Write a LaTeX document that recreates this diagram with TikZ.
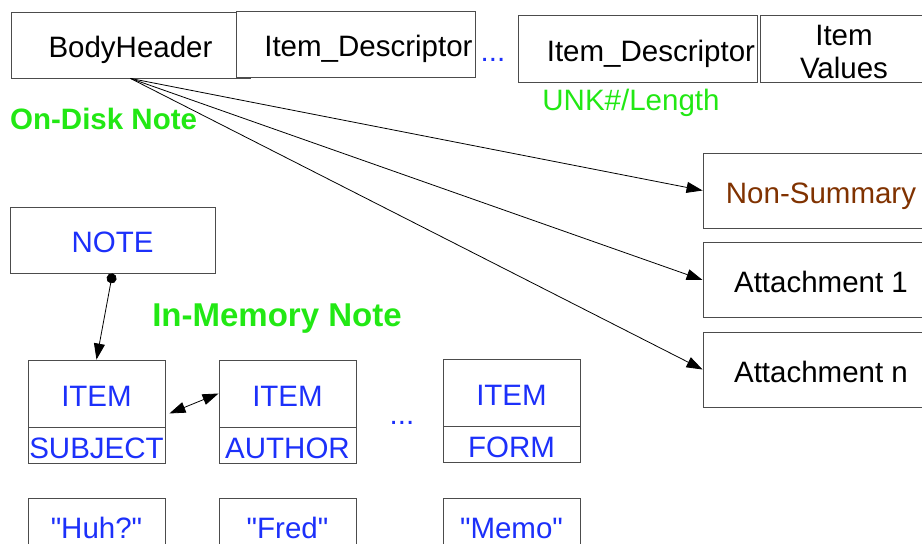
\documentclass[tikz,border=0pt]{standalone}
\usepackage{fontspec}
\setmainfont{Liberation Sans}
\usetikzlibrary{arrows.meta}

\definecolor{diskgreen}{RGB}{34,232,20}
\definecolor{itemblue}{RGB}{28,48,250}
\definecolor{nsbrown}{RGB}{128,50,0}

\begin{document}
\begin{tikzpicture}[x=1pt,y=-1pt]
    	\tikzstyle{mybox} = 
    	[draw = black!70,
    	line width = 0.9pt,
    	fill = white,
    	inner sep = 0pt,
    	font = \fontsize{29.5}{33}\selectfont
    	]
    	\tikzstyle{onebox} = 
    	[mybox,
    	text height = 25pt,
    	text depth = 0pt
    	]
    	\tikzstyle{descbox} = 
    	[onebox,
    	minimum height = 66pt,
    	text width = 234pt,
    	inner xsep = 2.5pt,
    	align = right
    	]
    	\tikzstyle{itembox} = 
    	[onebox,
    	text = itemblue,
    	minimum width = 137pt,
    	minimum height = 67pt
    	]
    	\tikzstyle{fieldbox} = 
    	[itembox,
    	minimum height = 36pt
    	]
    	\tikzstyle{sidebox} = 
    	[onebox,
    	minimum width = 236pt,
    	minimum height = 75pt
    	]
    	\tikzstyle{caption} = 
    	[text = diskgreen,
    	inner sep = 0pt,
    	font = \fontsize{29.5}{33}\selectfont\bfseries
    	]
    	\tikzstyle{myarrow} = 
    	[line width = 0.8pt,
    	-{Triangle[length=16pt,width=11pt]}
    	]

        \useasboundingbox (0,0) rectangle (922,544);
        \clip (0,0) rectangle (922,544);

        % on-disk layout
        \node[onebox, minimum width=239pt, minimum height=66pt]
        	(body) at (130.5,45) {BodyHeader};
        \node[descbox] (desc1) at (355.5,44) {Item\_Descriptor};
        \node[text=itemblue, font=\fontsize{29.5}{33}\selectfont]
        	(gap) at (493,60) {...};
        \node[descbox, minimum height=67pt] (desc2) at (638,48.5) {Item\_Descriptor};
        \node[mybox, minimum width=168pt, minimum height=67pt, align=center,
        	text height=60pt] 
        	(values) at (844,48.5) {Item\\Values};
        \node[caption, font=\fontsize{29.5}{33}\selectfont]
        	(unk) at (631,103) {UNK\#/Length};
        \node[caption, anchor=west] (disk) at (10,119) {On-Disk Note};

        \node[sidebox, text=nsbrown] (nonsum) at (821,190.5) {Non-Summary};
        \node[sidebox] (att1) at (821,280) {Attachment 1};
        \node[sidebox] (attn) at (821,369.5) {Attachment n};

        % in-memory layout
        \node[onebox, text=itemblue, minimum width=205pt, minimum height=66pt]
        	(note) at (112.5,240) {NOTE};
        \node[caption, font=\fontsize{33}{36}\selectfont\bfseries]
        	(mem) at (277,319) {In-Memory Note};

        \node[itembox] (item1) at (96.5,393.5) {ITEM};
        \node[fieldbox, anchor=north] (subject) at (item1.south) {SUBJECT};
        \node[itembox] (item2) at (287.5,393.5) {ITEM};
        \node[fieldbox, anchor=north] (author) at (item2.south) {AUTHOR};
        \node[text=itemblue, font=\fontsize{29.5}{33}\selectfont]
        	(more) at (402,423) {...};
        \node[itembox] (item3) at (511.5,392.5) {ITEM};
        \node[fieldbox, anchor=north] (form) at (item3.south) {FORM};

        \node[itembox, minimum height=56pt] (huh) at (96.5,526)
        	{\textquotedbl Huh?\textquotedbl};
        \node[itembox, minimum height=56pt] (fred) at (287.5,526)
        	{\textquotedbl Fred\textquotedbl};
        \node[itembox, minimum height=56pt] (memo) at (511.5,526)
        	{\textquotedbl Memo\textquotedbl};

        \coordinate (link) at ([xshift=4pt,yshift=14pt]item1.south east);

        \path
        (body.south) edge[myarrow] (nonsum.west)
        		edge[myarrow] (att1.west)
        		edge[myarrow] (attn.west)
        ;
        \draw[myarrow, {Circle[length=10pt]}-{Triangle[length=16pt,width=11pt]}]
        	(note.south) -- (item1.north);
        \draw[myarrow, {Triangle[length=16pt,width=11pt]}-{Triangle[length=16pt,width=11pt]}]
        	(link) -- (item2.west);
    \end{tikzpicture}
\end{document}
